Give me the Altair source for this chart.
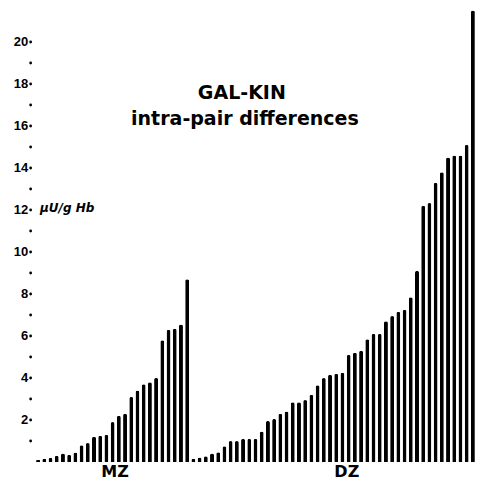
import altair as alt
import pandas as pd

mz = [0.1, 0.15, 0.2, 0.3, 0.4, 0.35, 0.45, 0.8, 0.9, 1.2, 1.25, 1.3, 1.9, 2.2, 2.3,
      3.1, 3.4, 3.7, 3.8, 4.0, 5.8, 6.3, 6.35, 6.55, 8.7]
dz = [0.15, 0.22, 0.27, 0.41, 0.46, 0.75, 1.0, 1.0, 1.1, 1.1,
      1.1, 1.45, 1.95, 2.05, 2.3, 2.4, 2.85, 2.85, 2.95, 3.2,
      3.65, 4.0, 4.15, 4.2, 4.25, 5.1, 5.2, 5.3, 5.85, 6.1,
      6.1, 6.7, 6.95, 7.15, 7.25, 7.85, 9.1, 12.2, 12.33, 13.3,
      13.8, 14.5, 14.6, 14.6, 15.1, 21.5]

groups = ["MZ", "DZ"]
title_lines = ["GAL-KIN", "intra-pair differences"]
unit_label = "μU/g Hb"
tick_values = list(range(1, 21))
label_values = list(range(2, 21, 2))
label_texts = [str(v) for v in label_values]

vals = mz + dz
bars = pd.DataFrame({
    "i": list(range(len(vals))),
    "v": vals,
    "g": ["MZ"] * len(mz) + ["DZ"] * len(dz),
})

titles = pd.DataFrame({"t": title_lines, "i": [32.8, 33.3], "v": [17.55, 16.35]})
groups_df = pd.DataFrame({"t": groups, "i": [12.4, 49.7], "v": [0, 0]})
unit_df = pd.DataFrame({"t": [unit_label], "i": [0.3], "v": [12.1]})
dots_df = pd.DataFrame({"v": tick_values, "i": [-1.2] * len(tick_values)})
labels_df = pd.DataFrame({"v": label_values, "t": label_texts, "i": [-1.6] * len(label_values)})

xs = alt.Scale(domain=[-0.5, len(vals) - 0.5], nice=False, zero=False, padding=0)
ys = alt.Scale(domain=[0, 21.5], nice=False, padding=0)

X = lambda: alt.X("i:Q", scale=xs, axis=None)
Y = lambda: alt.Y("v:Q", scale=ys, axis=None)

bar = alt.Chart(bars).mark_bar(size=4, color="black", cornerRadiusEnd=2).encode(x=X(), y=Y())

dots = alt.Chart(dots_df).mark_circle(size=8, color="black", opacity=1).encode(x=X(), y=Y())

ylab = alt.Chart(labels_df).mark_text(font="Liberation Sans", fontWeight="bold", fontSize=13,
                                      color="black", align="right", baseline="middle").encode(
    x=X(), y=Y(), text="t:N")

ttl = alt.Chart(titles).mark_text(font="DejaVu Sans", fontWeight="bold", fontSize=19,
                                  color="black", align="center", baseline="middle").encode(
    x=X(), y=Y(), text="t:N")

grp = alt.Chart(groups_df).mark_text(font="DejaVu Sans", fontWeight="bold", fontSize=16,
                                     color="black", align="center", baseline="middle", dy=10).encode(
    x=X(), y=Y(), text="t:N")

unit = alt.Chart(unit_df).mark_text(font="DejaVu Sans", fontWeight="bold", fontStyle="italic",
                                    fontSize=12, color="black", align="left", baseline="middle").encode(
    x=X(), y=Y(), text="t:N")

chart = alt.layer(bar, dots, ylab, ttl, grp, unit).properties(
    width=441, height=451.5,
    background="white",
    autosize=alt.AutoSizeParams(type="none"),
    padding={"left": 27, "top": 2.5, "right": 0, "bottom": 18},
).configure_view(stroke=None)

chart.save("out.html", embed_options={"renderer": "svg", "actions": False})
